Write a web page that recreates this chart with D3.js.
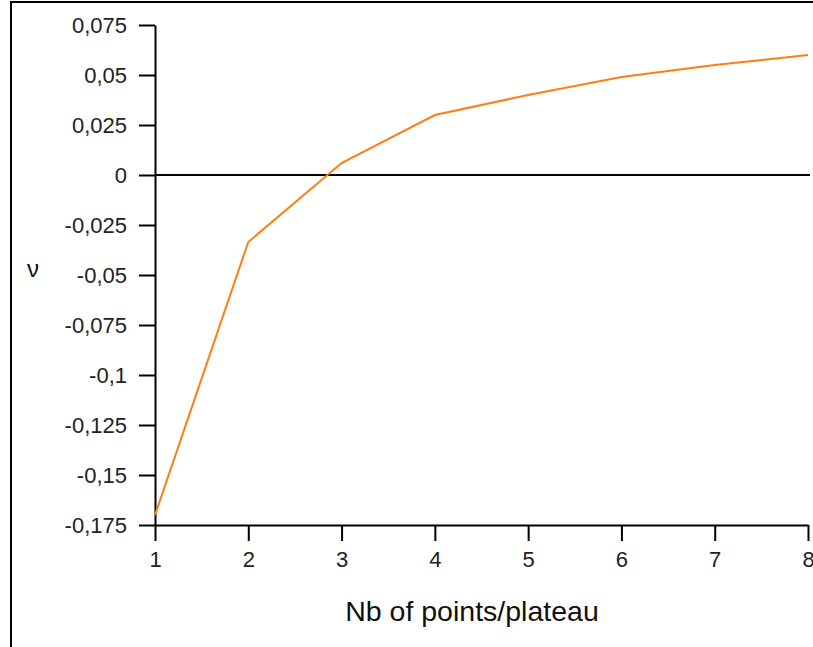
<!DOCTYPE html>
<html>
<head>
<meta charset="utf-8">
<script src="https://cdn.jsdelivr.net/npm/d3@7"></script>
<style>
  body { margin: 0; background: #fff; }
  svg { display: block; font-family: "Liberation Sans", Arial, sans-serif; }
</style>
</head>
<body>
<div id="container"></div>
<script>
/* DATA */
const points = [1, 2, 3, 4, 5, 6, 7, 8];
const nu = [-0.17, -0.0335, 0.006, 0.030, 0.040, 0.049, 0.055, 0.060];
const yTicks = [-0.175, -0.15, -0.125, -0.1, -0.075, -0.05, -0.025, 0, 0.025, 0.05, 0.075];
const xTicks = [1, 2, 3, 4, 5, 6, 7, 8];

/* CONSTANTS */
const width = 813,
  height = 647,
  margin = { top: 25, bottom: 122, left: 155, right: 5 };

const svg = d3.select("#container")
  .append("svg")
  .attr("width", width)
  .attr("height", height);

// outer frame (runs off the right/bottom edge)
svg.append("rect")
  .attr("x", 11)
  .attr("y", 2)
  .attr("width", 830)
  .attr("height", 700)
  .attr("fill", "none")
  .attr("stroke", "#000")
  .attr("stroke-width", 2);

// SCALES
const x = d3.scaleLinear()
  .domain([1, 8])
  .range([margin.left, width - margin.right]);

const y = d3.scaleLinear()
  .domain([-0.175, 0.075])
  .range([height - margin.bottom, margin.top]);

const locale = d3.formatLocale({ decimal: ",", thousands: " ", grouping: [3], currency: ["", ""], minus: "-" });
const fmt = locale.format("~f");

// AXES
const yAxis = d3.axisLeft(y)
  .tickValues(yTicks)
  .tickFormat(fmt)
  .tickSize(16)
  .tickSizeOuter(0)
  .tickPadding(12);

const xAxis = d3.axisBottom(x)
  .tickValues(xTicks)
  .tickFormat(d3.format("d"))
  .tickSize(16)
  .tickSizeOuter(0)
  .tickPadding(10);

const gy = svg.append("g")
  .attr("transform", `translate(${margin.left},0)`)
  .call(yAxis);

const gx = svg.append("g")
  .attr("transform", `translate(0,${height - margin.bottom})`)
  .call(xAxis);

[gx, gy].forEach(g => {
  g.selectAll("path, line").attr("stroke", "#000").attr("stroke-width", 2);
  g.selectAll("text")
    .attr("fill", "#222")
    .attr("font-size", 22)
    .attr("font-family", "Liberation Sans, Arial, sans-serif");
});

// zero line
svg.append("line")
  .attr("x1", x(1))
  .attr("x2", x(8) + 2)
  .attr("y1", y(0))
  .attr("y2", y(0))
  .attr("stroke", "#000")
  .attr("stroke-width", 2);

// LINE
const lineGen = d3.line()
  .x((d, i) => x(points[i]))
  .y(d => y(d));

svg.append("path")
  .datum(nu)
  .attr("d", lineGen)
  .attr("fill", "none")
  .attr("stroke", "#ff7d14")
  .attr("stroke-width", 2);

// LABELS
svg.append("text")
  .attr("x", 472)
  .attr("y", 621)
  .attr("text-anchor", "middle")
  .attr("font-size", 28.5)
  .attr("fill", "#111")
  .text("Nb of points/plateau");

svg.append("text")
  .attr("x", 33)
  .attr("y", 277)
  .attr("text-anchor", "middle")
  .attr("font-size", 24)
  .attr("fill", "#111")
  .text("ν");
</script>
</body>
</html>
